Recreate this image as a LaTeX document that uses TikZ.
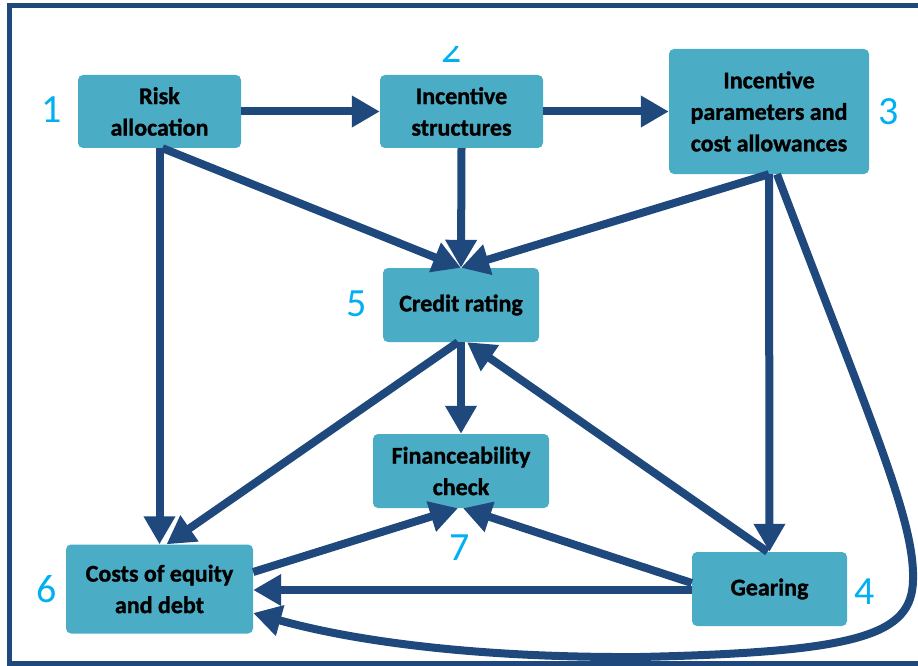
\documentclass[tikz,border=0pt]{standalone}
\usepackage{fontspec}
\setsansfont{Carlito}
\newfontfamily\stagefont{Carlito Bold}[FakeBold=1.2]
\usetikzlibrary{arrows.meta}
\definecolor{boxteal}{HTML}{4BACC6}
\definecolor{arrowblue}{HTML}{1F497D}
\definecolor{numblue}{HTML}{00B0F0}

\begin{document}
\begin{tikzpicture}[x=1pt, y=-1pt,
    stage/.style={fill=boxteal, rounded corners=5pt, align=center, inner sep=0pt,
        font=\stagefont\fontsize{24}{31.5}\selectfont},
    stagenum/.style={text=numblue, inner sep=0pt, font=\sffamily\fontsize{40}{40}\selectfont},
    flow/.style={arrowblue, line width=8pt, -{Triangle[length=28pt, width=30pt]}}]

    % Page size and outer frame
    \useasboundingbox (0,0) rectangle (918,666);
    \clip (0,0) rectangle (918,666);
    \draw[arrowblue, line width=5pt] (9.5,5.5) rectangle (930,663.5);

    % Draw the stages
    \node[stage, minimum width=163pt, minimum height=73pt] (risk) at (159.5,111.5) {Risk\\allocation};
    \node[stage, minimum width=163pt, minimum height=73pt] (incent) at (461.5,111.5) {Incentive\\structures};
    \node[stage, minimum width=200pt, minimum height=125pt] (param) at (769,111.5) {Incentive\\parameters and\\cost allowances};
    \node[stage, minimum width=156pt, minimum height=74pt] (credit) at (461,305) {Credit rating};
    \node[stage, minimum width=176pt, minimum height=74pt] (finance) at (461,471) {Financeability\\check};
    \node[stage, minimum width=187pt, minimum height=89pt] (costs) at (159.5,589) {Costs of equity\\and debt};
    \node[stage, minimum width=155pt, minimum height=74pt] (gear) at (769.5,589) {Gearing};

    % Number the stages
    \node[stagenum] (n1) at (52,110) {1};
    \begin{scope}
        \clip (420,47) rectangle (490,70);
        \node[stagenum] (n2) at (452,50) {2};
    \end{scope}
    \node[stagenum] (n3) at (889,112) {3};
    \node[stagenum] (n4) at (865,592) {4};
    \node[stagenum] (n5) at (357,304) {5};
    \node[stagenum] (n6) at (47,589) {6};
    \node[stagenum] (n7) at (460,548) {7};

    % Top row
    \draw[flow] (risk.east) -- (incent.west);
    \draw[flow] (incent.east) -- (param.west);

    % Into the credit rating
    \draw[flow] ([xshift=3pt]risk.south) -- (credit.north);
    \draw[flow] (incent.south) -- (credit.north);
    \draw[flow] (param.south) -- (credit.north);

    % Down the sides
    \draw[flow] (risk.south) -- (costs.north);
    \draw[flow] (param.south) -- (gear.north);
    \draw[flow] ([xshift=8pt]param.south) .. controls (870,420) and (915,520) .. (913,580)
        .. controls (912,635) and (860,652) .. (640,657)
        .. controls (470,658) and (350,640) .. ([yshift=-24pt]costs.east);

    % Out of the credit rating
    \draw[flow] (credit.south) -- (finance.north);
    \draw[flow] ([xshift=-3pt]credit.south) -- ([xshift=7pt]costs.north);
    \draw[flow] ([xshift=-2pt]gear.north) -- ([xshift=6pt]credit.south);

    % Bottom row
    \draw[flow] ([yshift=6pt]gear.west) -- ([xshift=2pt]finance.south);
    \draw[flow] ([yshift=17pt]costs.east) -- ([xshift=-3pt]finance.south);
    \draw[flow] ([yshift=-1pt]gear.west) -- ([yshift=-1pt]costs.east);
\end{tikzpicture}
\end{document}
